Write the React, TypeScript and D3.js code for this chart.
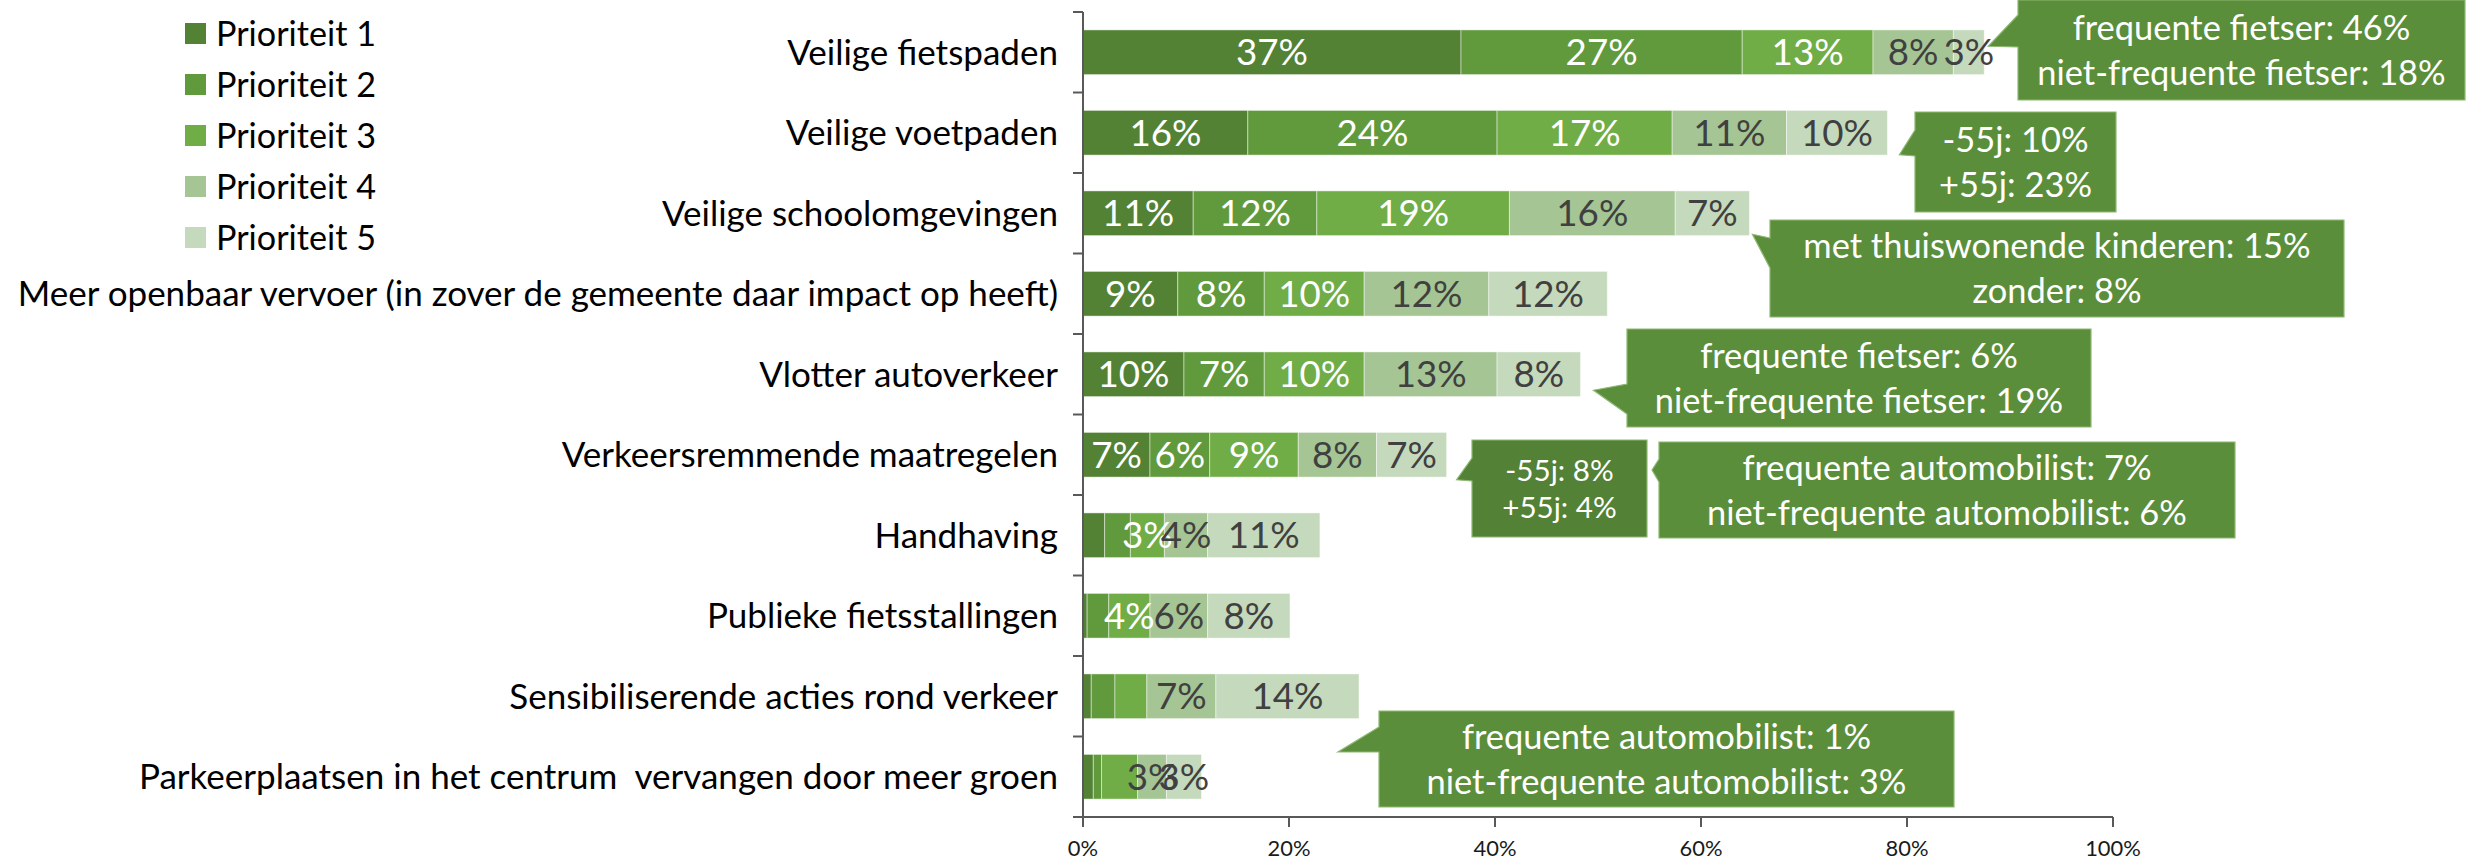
import React from "react";
import * as d3 from "d3";

const categories = [
  "Veilige fietspaden",
  "Veilige voetpaden",
  "Veilige schoolomgevingen",
  "Meer openbaar vervoer (in zover de gemeente daar impact op heeft)",
  "Vlotter autoverkeer",
  "Verkeersremmende maatregelen",
  "Handhaving",
  "Publieke fietsstallingen",
  "Sensibiliserende acties rond verkeer",
  "Parkeerplaatsen in het centrum  vervangen door meer groen",
];
const seriesNames = ["Prioriteit 1", "Prioriteit 2", "Prioriteit 3", "Prioriteit 4", "Prioriteit 5"];

const p1 = [36.7, 16.0, 10.7, 9.2, 9.8, 6.5, 2.1, 0.4, 0.8, 1.0];
const p2 = [27.3, 24.2, 12.0, 8.4, 7.8, 5.8, 2.5, 2.1, 2.3, 0.8];
const p3 = [12.7, 17.0, 18.7, 9.7, 9.7, 8.6, 3.3, 4.0, 3.1, 3.5];
const p4 = [7.8, 11.1, 16.1, 12.1, 12.9, 7.6, 4.2, 5.6, 6.7, 2.8];
const p5 = [3.0, 9.8, 7.2, 11.5, 8.1, 6.8, 10.9, 8.0, 13.9, 3.4];

const lab1 = ["37%", "16%", "11%", "9%", "10%", "7%", "", "", "", ""];
const lab2 = ["27%", "24%", "12%", "8%", "7%", "6%", "", "", "", ""];
const lab3 = ["13%", "17%", "19%", "10%", "10%", "9%", "3%", "4%", "", ""];
const lab4 = ["8%", "11%", "16%", "12%", "13%", "8%", "4%", "6%", "7%", "3%"];
const lab5 = ["3%", "10%", "7%", "12%", "8%", "7%", "11%", "8%", "14%", "3%"];

const xTicks = [0, 0.2, 0.4, 0.6, 0.8, 1];

const calloutRows = [0, 1, 2, 4, 5, -1, -1];
const calloutTexts = [
  ["frequente fietser: 46%", "niet-frequente fietser: 18%"],
  ["-55j: 10%", "+55j: 23%"],
  ["met thuiswonende kinderen: 15%", "zonder: 8%"],
  ["frequente fietser: 6%", "niet-frequente fietser: 19%"],
  ["-55j: 8%", "+55j: 4%"],
  ["frequente automobilist: 7%", "niet-frequente automobilist: 6%"],
  ["frequente automobilist: 1%", "niet-frequente automobilist: 3%"],
];

// ---- layout / style (not data) ----
const FONT = "Lato";
const colors = ["#548235", "#619A3D", "#70AD47", "#A5C594", "#C5D9BC"];
const labelColors = ["#ffffff", "#ffffff", "#ffffff", "#404040", "#404040"];

let _ctx: CanvasRenderingContext2D | null = null;
function measure(text: string, size: number) {
  if (!_ctx) _ctx = document.createElement("canvas").getContext("2d");
  if (!_ctx) return text.length * size * 0.5;
  _ctx.font = `${size}px ${FONT}`;
  return _ctx.measureText(text).width;
}
const fit = (text: string, width: number) => (width / measure(text, 100)) * 100;

const catFont = fit(categories[3], 1045);
const tickFont = fit("20%", 43);
const barFont = fit("37%", 72);
const calloutFont = fit("niet-frequente automobilist: 3%", 480);
const legendFont = fit("Prioriteit 1", 160);

type Box = { x: number; y: number; w: number; h: number; b0: number; b1: number; tip: [number, number]; rel: boolean; fill: string; small?: boolean };
const calloutLayout: Box[] = [
  { x: 2018, y: 0, w: 447, h: 100, b0: 15, b1: 47, tip: [4, -6], rel: true, fill: "#5B8E3B" },
  { x: 1915, y: 112, w: 201, h: 100, b0: 130, b1: 156, tip: [12, 22], rel: true, fill: "#5B8E3B" },
  { x: 1770, y: 220, w: 574, h: 97, b0: 238, b1: 268, tip: [3, 21], rel: true, fill: "#5B8E3B" },
  { x: 1627, y: 329, w: 464, h: 98, b0: 384, b1: 414, tip: [13, 16], rel: true, fill: "#5B8E3B" },
  { x: 1472, y: 440, w: 175, h: 97, b0: 458, b1: 481, tip: [10, 25], rel: true, fill: "#538135", small: true },
  { x: 1659, y: 442, w: 576, h: 96, b0: 459, b1: 482, tip: [1652, 470], rel: false, fill: "#5B8E3B" },
  { x: 1379, y: 711, w: 575, h: 96, b0: 727, b1: 752, tip: [1338, 752], rel: false, fill: "#5B8E3B" },
];

export default function App() {
  const W = 2476;
  const H = 860;
  const top = 12;
  const bottom = 817;
  const x = d3.scaleLinear().domain([0, 1]).range([1083, 2113]);
  const y = d3.scaleBand<string>().domain(categories).range([top, bottom]).paddingInner(0.445).paddingOuter(0.2225);
  const series = [p1, p2, p3, p4, p5];
  const labels = [lab1, lab2, lab3, lab4, lab5];
  const table = categories.map((c, i) => {
    const row: Record<string, any> = { cat: c };
    seriesNames.forEach((s, j) => (row[s] = series[j][i] / 100));
    return row;
  });
  const stacked = d3.stack<any>().keys(seriesNames)(table);
  const totals = categories.map((_, i) => d3.sum(series, (s) => s[i]) / 100);
  const bw = y.bandwidth();
  const step = y.step();
  const bounds = d3.range(categories.length + 1).map((i) => top + i * step);
  const fmt = d3.format(".0%");
  const axisColor = "#595959";

  return (
    <svg width={W} height={H} style={{ display: "block", fontFamily: FONT }}>
      <style>{`body{margin:0}`}</style>
      <rect width={W} height={H} fill="#ffffff" />
      {/* bars */}
      {stacked.map((layer, j) => (
        <g key={j}>
          {layer.map((d, i) => (
            <rect
              key={i}
              x={x(d[0])}
              y={y(categories[i])}
              width={Math.max(0, x(d[1]) - x(d[0]))}
              height={bw}
              fill={colors[j]}
              stroke="#ffffff"
              strokeOpacity={0.45}
              strokeWidth={1}
            />
          ))}
        </g>
      ))}
      {/* bar labels */}
      {stacked.map((layer, j) => (
        <g key={"l" + j}>
          {layer.map((d, i) =>
            labels[j][i] ? (
              <text
                key={i}
                x={(x(d[0]) + x(d[1])) / 2}
                y={(y(categories[i]) as number) + bw / 2}
                dy="0.36em"
                textAnchor="middle"
                fontSize={barFont}
                fill={labelColors[j]}
              >
                {labels[j][i]}
              </text>
            ) : null
          )}
        </g>
      ))}
      {/* y axis */}
      <line x1={x(0)} x2={x(0)} y1={top} y2={bottom + 10} stroke={axisColor} strokeWidth={2} />
      {bounds.map((b, i) => (
        <line key={i} x1={x(0) - 10} x2={x(0)} y1={b} y2={b} stroke={axisColor} strokeWidth={2} />
      ))}
      {/* x axis */}
      <line x1={x(0)} x2={x(1)} y1={bottom} y2={bottom} stroke={axisColor} strokeWidth={2} />
      {xTicks.map((t) => (
        <g key={t}>
          <line x1={x(t)} x2={x(t)} y1={bottom} y2={bottom + 10} stroke={axisColor} strokeWidth={2} />
          <text x={x(t)} y={856} textAnchor="middle" fontSize={tickFont} fill="#1a1a1a">
            {fmt(t)}
          </text>
        </g>
      ))}
      {/* category labels */}
      {categories.map((c) => (
        <text
          key={c}
          x={1058}
          y={(y(c) as number) + bw / 2}
          dy="0.36em"
          textAnchor="end"
          fontSize={catFont}
          fill="#000000"
          style={{ whiteSpace: "pre" }}
        >
          {c}
        </text>
      ))}
      {/* legend */}
      {seriesNames.map((s, j) => (
        <g key={s}>
          <rect x={185} y={33.5 + j * 51 - 10.5} width={21} height={21} fill={colors[j]} />
          <text x={216} y={33.5 + j * 51} dy="0.36em" fontSize={legendFont} fill="#000000">
            {s}
          </text>
        </g>
      ))}
      {/* callouts */}
      {calloutLayout.map((b, i) => {
        const r = calloutRows[i];
        const tip: [number, number] = b.rel
          ? [x(totals[r]) + b.tip[0], (y(categories[r]) as number) + bw / 2 + b.tip[1]]
          : b.tip;
        const path = `M${b.x},${b.y} H${b.x + b.w} V${b.y + b.h} H${b.x} V${b.b1} L${tip[0]},${tip[1]} L${b.x},${b.b0} Z`;
        const cy = b.y + b.h / 2;
        const gap = b.small ? 18.5 : 22.5;
        const fs = b.small ? calloutFont * 0.86 : calloutFont;
        return (
          <g key={i}>
            <path d={path} fill={b.fill} stroke="#8DB873" strokeWidth={1.2} />
            {calloutTexts[i].map((t, li) => (
              <text
                key={li}
                x={b.x + b.w / 2}
                y={cy + (li === 0 ? -gap : gap)}
                dy="0.36em"
                textAnchor="middle"
                fontSize={fs}
                fill="#ffffff"
              >
                {t}
              </text>
            ))}
          </g>
        );
      })}
    </svg>
  );
}
